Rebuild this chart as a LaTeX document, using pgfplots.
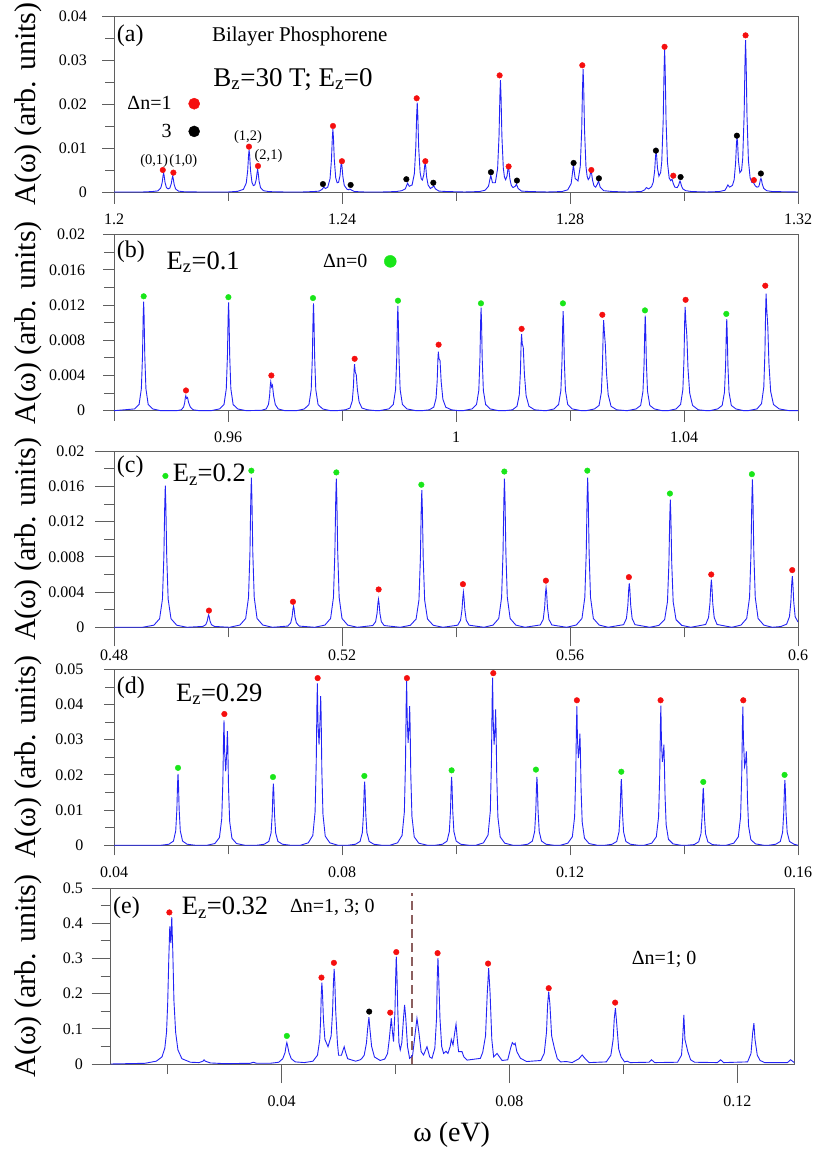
\documentclass[border=0pt]{standalone}
\usepackage{fontspec}
\setmainfont{Liberation Serif}
\usepackage{pgfplots}
\usepackage{pgfplotstable}
\pgfplotsset{compat=1.18}

\definecolor{specblue}{RGB}{35,35,245}
\definecolor{dotred}{RGB}{245,15,15}
\definecolor{dotgreen}{RGB}{25,230,25}
\definecolor{axgray}{RGB}{95,95,95}
\definecolor{dashbrown}{RGB}{140,95,95}

% ---------------- panel (a) ----------------
\pgfplotstableread{
x y
1.2000 0
1.2050 0
1.2067 0.0001
1.2077 0.00025
1.2082 0.0009
1.20845 0.0021
1.2086 0.0036
1.2087 0.0043
1.2088 0.0037
1.20895 0.0022
1.2092 0.0010
1.2095 0.0007
1.2098 0.0009
1.21005 0.0019
1.2102 0.0031
1.2103 0.0036
1.2104 0.0030
1.21055 0.00175
1.2108 0.0007
1.2113 0.0002
1.2123 0.00005
1.2150 0
1.2200 0
1.2217 0.00015
1.2227 0.0006
1.2232 0.0020
1.22345 0.0048
1.2236 0.0082
1.2237 0.0096
1.2238 0.0083
1.22395 0.0049
1.2242 0.0022
1.22445 0.00145
1.2247 0.0016
1.22495 0.0028
1.2251 0.0044
1.2252 0.0051
1.2253 0.0043
1.22545 0.0025
1.2257 0.0010
1.2262 0.0003
1.2272 0.00008
1.2300 0
1.2330 0
1.2350 0.0001
1.2360 0.0002
1.2365 0.0006
1.2368 0.0011
1.2371 0.0008
1.2375 0.0011
1.2379 0.0030
1.23815 0.0073
1.2383 0.0122
1.2384 0.0143
1.2385 0.0123
1.23865 0.0073
1.2389 0.0032
1.23915 0.0021
1.2394 0.0022
1.23965 0.0037
1.2398 0.0059
1.2399 0.0068
1.2400 0.0058
1.24015 0.0035
1.2404 0.0015
1.2409 0.0006
1.2412 0.0005
1.2414 0.00067
1.2417 0.0004
1.2422 0.0001
1.2440 0
1.2470 0
1.2495 0.0001
1.2505 0.0003
1.2511 0.0007
1.2515 0.0020
1.2518 0.0013
1.2523 0.0016
1.2527 0.0042
1.25295 0.0103
1.2531 0.0175
1.2532 0.0203
1.2533 0.0174
1.25345 0.0102
1.2537 0.0045
1.2539 0.0030
1.2541 0.0027
1.25435 0.0039
1.2545 0.0059
1.2546 0.0066
1.2547 0.0057
1.25485 0.0034
1.2551 0.0016
1.2555 0.0008
1.2559 0.0011
1.2561 0.0014
1.2564 0.0007
1.2570 0.0002
1.2585 0.0001
1.2615 0
1.2641 0.0001
1.2651 0.0004
1.2657 0.0013
1.2661 0.0038
1.2664 0.0021
1.2669 0.0021
1.2673 0.0053
1.26755 0.0128
1.2677 0.0218
1.2678 0.0254
1.2679 0.0218
1.26805 0.0128
1.2683 0.0054
1.2685 0.0034
1.2687 0.0028
1.26895 0.0036
1.2691 0.0052
1.2692 0.0058
1.2693 0.0049
1.26945 0.0030
1.2697 0.0015
1.2700 0.0010
1.2704 0.0013
1.2706 0.0018
1.2709 0.0008
1.2715 0.0002
1.2730 0.0001
1.2760 0
1.2786 0.0001
1.2796 0.0005
1.2802 0.0019
1.2806 0.0061
1.2809 0.0031
1.2814 0.0025
1.2818 0.0058
1.28205 0.0140
1.2822 0.0239
1.2823 0.0279
1.2824 0.0239
1.28255 0.0140
1.2828 0.0058
1.2830 0.0036
1.2832 0.0028
1.28345 0.0033
1.2836 0.0044
1.2837 0.0049
1.2838 0.0041
1.28395 0.0027
1.2842 0.0014
1.2845 0.0011
1.2848 0.0018
1.2850 0.0025
1.2853 0.0011
1.2859 0.0003
1.2875 0.0001
1.2900 0
1.2925 0.0001
1.2931 0.0005
1.2934 0.0010
1.2938 0.0007
1.2943 0.0012
1.2946 0.0022
1.29485 0.0048
1.2950 0.0080
1.2951 0.0093
1.2952 0.0082
1.29535 0.0054
1.2956 0.0036
1.2959 0.0044
1.2961 0.0069
1.29635 0.0163
1.2965 0.0276
1.2966 0.0324
1.2967 0.0278
1.29685 0.0163
1.2971 0.0067
1.2974 0.0032
1.29765 0.0026
1.2979 0.0029
1.29815 0.0018
1.2984 0.0011
1.2988 0.0010
1.29905 0.0015
1.2992 0.0022
1.2993 0.0025
1.2994 0.0022
1.29955 0.0014
1.2998 0.0007
1.3003 0.0003
1.3013 0.0001
1.3040 0
1.3062 0.0001
1.3072 0.0004
1.3075 0.0011
1.3077 0.0016
1.3080 0.0011
1.3085 0.0015
1.3088 0.0028
1.30905 0.0065
1.3092 0.0109
1.3093 0.0125
1.3094 0.0112
1.30955 0.0071
1.3098 0.0044
1.3101 0.0049
1.3103 0.0076
1.31055 0.0176
1.3107 0.0295
1.3108 0.0345
1.3109 0.0297
1.31105 0.0174
1.3113 0.0072
1.3116 0.0032
1.3119 0.0022
1.3122 0.0021
1.3125 0.0014
1.3128 0.0011
1.3131 0.0012
1.31325 0.0018
1.3134 0.0028
1.3135 0.0031
1.3136 0.0027
1.31375 0.0017
1.3140 0.0008
1.3145 0.0003
1.3155 0.0001
1.3200 0
}\specA
\pgfplotstableread{
x y
1.20856 0.0050
1.21042 0.0044
1.22368 0.0103
1.22526 0.0059
1.23842 0.0150
1.23999 0.0070
1.2531 0.0213
1.25462 0.0070
1.26765 0.0265
1.26923 0.0058
1.28216 0.0288
1.28374 0.0050
1.29659 0.0330
1.29812 0.0037
1.3108 0.0356
1.31226 0.0027
}\redA
\pgfplotstableread{
x y
1.23666 0.0018
1.24152 0.0016
1.25129 0.0029
1.25602 0.0021
1.26613 0.0045
1.27069 0.0026
1.28063 0.0066
1.28507 0.0031
1.29507 0.0094
1.2994 0.0034
1.30928 0.0128
1.31349 0.0042
}\blackA

% ---------------- panel (b) ----------------
\pgfplotstableread{
x y
0.9400 0
0.9436 0.0002
0.9444 0.0007
0.9448 0.0025
0.9450 0.0062
0.94512 0.0107
0.9452 0.0124
0.94528 0.0107
0.9454 0.0062
0.9456 0.0025
0.9460 0.0007
0.9468 0.0002
0.9482 0
0.9510 0
0.9518 0.0001
0.9522 0.0004
0.9524 0.0009
0.95252 0.0015
0.9526 0.0017
0.95272 0.0014
0.9529 0.0015
0.9531 0.0009
0.9534 0.0004
0.9539 0.0001
0.9550 0
0.9570 0
0.9585 0.0002
0.9593 0.0007
0.9597 0.0025
0.9599 0.0062
0.96002 0.0106
0.9601 0.0123
0.96018 0.0106
0.9603 0.0062
0.9605 0.0025
0.9609 0.0007
0.9617 0.0002
0.9632 0
0.9659 0.00005
0.9667 0.0002
0.9671 0.0007
0.9673 0.0017
0.96742 0.0029
0.9675 0.0033
0.96765 0.0027
0.9678 0.0029
0.9680 0.0017
0.9683 0.0007
0.9688 0.0002
0.9700 0
0.9720 0
0.9734 0.0002
0.9742 0.0007
0.9746 0.0024
0.9748 0.0061
0.97492 0.0105
0.9750 0.0122
0.97508 0.0105
0.9752 0.0061
0.9754 0.0024
0.9758 0.0007
0.9766 0.0002
0.9780 0
0.9790 0
0.9806 0.0001
0.9814 0.0003
0.9818 0.0011
0.9820 0.0027
0.98212 0.0046
0.9822 0.0053
0.98232 0.0044
0.9825 0.0041
0.9827 0.0024
0.9830 0.0010
0.9835 0.0003
0.9845 0.0001
0.9860 0
0.9865 0
0.9882 0.0002
0.9890 0.0007
0.9894 0.0024
0.9896 0.0060
0.98972 0.0102
0.9898 0.0119
0.98988 0.0102
0.9900 0.0060
0.9902 0.0024
0.9906 0.0007
0.9914 0.0002
0.9930 0
0.9940 0
0.9953 0.0001
0.9961 0.0004
0.9965 0.0014
0.9967 0.0034
0.99682 0.0058
0.9969 0.0067
0.99702 0.0059
0.9972 0.0057
0.9974 0.0033
0.9977 0.0013
0.9982 0.0004
0.9992 0.0001
1.0005 0
1.0012 0
1.0028 0.0002
1.0036 0.0007
1.0040 0.0023
1.0042 0.0059
1.00432 0.0101
1.0044 0.0117
1.00448 0.0101
1.0046 0.0059
1.0048 0.0023
1.0052 0.0007
1.0060 0.0002
1.0075 0
1.0085 0
1.0099 0.0001
1.0107 0.0005
1.0111 0.0018
1.0113 0.0044
1.01142 0.0075
1.0115 0.0087
1.01162 0.0076
1.0118 0.0072
1.0120 0.0042
1.0123 0.0017
1.0128 0.0005
1.0138 0.0001
1.0155 0
1.0158 0
1.0172 0.0002
1.0180 0.0007
1.0184 0.0023
1.0186 0.0057
1.01872 0.0097
1.0188 0.0113
1.01888 0.0097
1.0190 0.0057
1.0192 0.0023
1.0196 0.0007
1.0204 0.0002
1.0220 0
1.0228 0
1.0243 0.0002
1.0251 0.0006
1.0255 0.0021
1.0257 0.0052
1.02582 0.0089
1.0259 0.0103
1.02602 0.0090
1.0262 0.0075
1.0264 0.0043
1.0267 0.0018
1.0272 0.0005
1.0282 0.0001
1.0300 0
1.0316 0.0002
1.0324 0.0006
1.0328 0.0022
1.0330 0.0054
1.03312 0.0093
1.0332 0.0108
1.03328 0.0093
1.0334 0.0054
1.0336 0.0022
1.0340 0.0006
1.0348 0.0002
1.0362 0
1.0372 0
1.0386 0.0002
1.0394 0.0007
1.0398 0.0024
1.0400 0.0059
1.04012 0.0102
1.0402 0.0118
1.04032 0.0102
1.0405 0.0085
1.0407 0.0048
1.0410 0.0020
1.0415 0.0006
1.0425 0.0001
1.0440 0
1.0445 0
1.0459 0.0002
1.0467 0.0006
1.0471 0.0021
1.0473 0.0052
1.04742 0.0089
1.0475 0.0104
1.04758 0.0089
1.0477 0.0052
1.0479 0.0021
1.0483 0.0006
1.0491 0.0002
1.0505 0
1.0512 0
1.0528 0.0002
1.0536 0.0008
1.0540 0.0027
1.0542 0.0067
1.05432 0.0114
1.0544 0.0133
1.05452 0.0115
1.0547 0.0096
1.0549 0.0054
1.0552 0.0022
1.0557 0.0007
1.0567 0.0002
1.0585 0
1.0600 0
}\specB
\pgfplotstableread{
x y
0.94521 0.0130
0.96007 0.0129
0.97491 0.0128
0.98982 0.0125
1.00438 0.0122
1.01876 0.0122
1.03315 0.0114
1.04742 0.0110
}\greenB
\pgfplotstableread{
x y
0.95263 0.0023
0.96761 0.0040
0.98222 0.0059
0.99695 0.0075
1.01151 0.0093
1.02567 0.0109
1.04028 0.0126
1.05426 0.0142
}\redB

% ---------------- panel (c) ----------------
\pgfplotstableread{
x y
0.4800 0
0.4850 0
0.4870 0.00024
0.4880 0.00097
0.4885 0.0032
0.48875 0.0081
0.4889 0.0138
0.4890 0.0161
0.4891 0.0138
0.48925 0.0081
0.4895 0.0032
0.4900 0.00097
0.4910 0.00024
0.4928 0
0.4956 0.0001
0.4961 0.0003
0.49635 0.0007
0.4965 0.0012
0.4966 0.0014
0.4967 0.0012
0.49685 0.0007
0.4971 0.0003
0.4976 0.0001
0.5003 0
0.5021 0.00026
0.5031 0.0010
0.5036 0.0034
0.50385 0.0085
0.5040 0.0146
0.5041 0.0170
0.5042 0.0146
0.50435 0.0085
0.5046 0.0034
0.5051 0.0010
0.5061 0.00026
0.5078 0
0.5105 0.00014
0.5110 0.0005
0.51125 0.0012
0.5114 0.0021
0.5115 0.0024
0.5116 0.0021
0.51175 0.0012
0.5120 0.0005
0.5125 0.00014
0.5152 0
0.5170 0.00025
0.5180 0.0010
0.5185 0.0034
0.51875 0.0085
0.5189 0.0145
0.5190 0.0169
0.5191 0.0145
0.51925 0.0085
0.5195 0.0034
0.5200 0.0010
0.5210 0.00025
0.5227 0
0.5254 0.0002
0.5259 0.00064
0.52615 0.0016
0.5263 0.00275
0.5264 0.0032
0.5265 0.00275
0.52665 0.0016
0.5269 0.00064
0.5274 0.0002
0.5302 0
0.5320 0.00023
0.5330 0.00094
0.5335 0.0031
0.53375 0.0078
0.5339 0.0134
0.5340 0.0156
0.5341 0.0134
0.53425 0.0078
0.5345 0.0031
0.5350 0.00094
0.5360 0.00023
0.5377 0
0.5403 0.00024
0.5408 0.0008
0.54105 0.0020
0.5412 0.0034
0.5413 0.0040
0.5414 0.0034
0.54155 0.0020
0.5418 0.0008
0.5423 0.00024
0.5449 0
0.5465 0.00025
0.5475 0.0010
0.5480 0.0034
0.54825 0.0085
0.5484 0.0145
0.5485 0.0169
0.5486 0.0145
0.54875 0.0085
0.5490 0.0034
0.5495 0.0010
0.5505 0.00025
0.5521 0
0.5548 0.00027
0.5553 0.0009
0.55555 0.00225
0.5557 0.0039
0.5558 0.0045
0.5559 0.0039
0.55605 0.00225
0.5563 0.0009
0.5568 0.00027
0.5594 0
0.5611 0.00026
0.5621 0.0010
0.5626 0.0034
0.56285 0.0085
0.5630 0.0146
0.5631 0.0170
0.5632 0.0146
0.56335 0.0085
0.5636 0.0034
0.5641 0.0010
0.5651 0.00026
0.5667 0
0.5694 0.0003
0.5699 0.0010
0.57015 0.0025
0.5703 0.0043
0.5704 0.0050
0.5705 0.0043
0.57065 0.0025
0.5709 0.0010
0.5714 0.0003
0.5740 0
0.5756 0.00022
0.5766 0.00087
0.5771 0.0029
0.57735 0.00725
0.5775 0.0125
0.5776 0.0145
0.5777 0.0125
0.57785 0.00725
0.5781 0.0029
0.5786 0.00087
0.5796 0.00022
0.5812 0
0.5838 0.00032
0.5843 0.0011
0.58455 0.0027
0.5847 0.0046
0.5848 0.0054
0.5849 0.0046
0.58505 0.0027
0.5853 0.0011
0.5858 0.00032
0.5884 0
0.5900 0.00025
0.5910 0.0010
0.5915 0.0034
0.59175 0.0084
0.5919 0.0144
0.5920 0.0168
0.5921 0.0144
0.59225 0.0084
0.5925 0.0034
0.5930 0.0010
0.5940 0.00025
0.5955 0
0.5970 0.00009
0.5980 0.00035
0.5985 0.0012
0.59875 0.0029
0.5989 0.0050
0.5990 0.0058
0.5991 0.0050
0.59925 0.0029
0.5995 0.0012
0.6000 0.0006
}\specC
\pgfplotstableread{
x y
0.48902 0.0172
0.50410 0.0178
0.51901 0.0176
0.53392 0.0162
0.54848 0.0177
0.56304 0.0178
0.57753 0.0152
0.59191 0.0174
}\greenC
\pgfplotstableread{
x y
0.49666 0.0019
0.51140 0.0029
0.52643 0.0043
0.54122 0.0049
0.55577 0.0053
0.57033 0.0057
0.58478 0.0060
0.59899 0.0065
}\redC

% ---------------- panel (d) ----------------
\pgfplotstableread{
x y
0.0400 0
0.0482 0
0.04963 0.0003
0.05043 0.0012
0.05083 0.0041
0.05103 0.0102
0.05115 0.0175
0.05123 0.0203
0.05131 0.0175
0.05143 0.0102
0.05163 0.0041
0.05203 0.0012
0.05283 0.0003
0.0543 0
0.0563 0
0.0577 0.0005
0.0585 0.0022
0.0589 0.0075
0.0591 0.0180
0.05922 0.0305
0.0593 0.0355
0.0594 0.027
0.0596 0.021
0.05979 0.027
0.05989 0.0324
0.05997 0.028
0.06009 0.0165
0.06029 0.0068
0.06069 0.0020
0.06149 0.0005
0.0630 0
0.0650 0
0.06636 0.0003
0.06716 0.0011
0.06756 0.0035
0.06776 0.0088
0.06788 0.0151
0.06796 0.0175
0.06804 0.0151
0.06816 0.0088
0.06836 0.0035
0.06876 0.0011
0.06956 0.0003
0.0710 0
0.0727 0
0.07408 0.0007
0.07488 0.0028
0.07528 0.0095
0.07548 0.0235
0.0756 0.0395
0.07568 0.0460
0.07578 0.035
0.07597 0.0286
0.07616 0.036
0.07626 0.0424
0.07634 0.037
0.07646 0.0215
0.07666 0.0088
0.07706 0.0026
0.07786 0.0007
0.0793 0
0.0810 0
0.08237 0.0003
0.08317 0.0011
0.08357 0.0036
0.08377 0.0090
0.08389 0.0156
0.08397 0.0181
0.08405 0.0156
0.08417 0.0090
0.08437 0.0036
0.08477 0.0011
0.08557 0.0003
0.0870 0
0.0884 0
0.08974 0.0007
0.09054 0.0028
0.09094 0.0095
0.09114 0.0235
0.09126 0.040
0.09134 0.0467
0.09144 0.036
0.0916 0.0291
0.09177 0.034
0.09187 0.0395
0.09195 0.034
0.09207 0.020
0.09227 0.0082
0.09267 0.0024
0.09347 0.0006
0.0950 0
0.0963 0
0.09763 0.0003
0.09843 0.0012
0.09883 0.0039
0.09903 0.0097
0.09915 0.0167
0.09923 0.0194
0.09931 0.0167
0.09943 0.0097
0.09963 0.0039
0.10003 0.0012
0.10083 0.0003
0.1023 0
0.1035 0
0.10482 0.0007
0.10562 0.0029
0.10602 0.0097
0.10622 0.024
0.10634 0.041
0.10642 0.0476
0.10652 0.036
0.10668 0.0286
0.10685 0.033
0.10695 0.0386
0.10703 0.033
0.10715 0.0195
0.10735 0.008
0.10775 0.0024
0.10855 0.0006
0.1100 0
0.1113 0
0.1126 0.0003
0.1134 0.0012
0.1138 0.0039
0.1140 0.0097
0.11412 0.0167
0.1142 0.0194
0.11428 0.0167
0.1144 0.0097
0.1146 0.0039
0.1150 0.0012
0.1158 0.0003
0.1172 0
0.1183 0
0.11961 0.0006
0.12041 0.0024
0.12081 0.0081
0.12101 0.020
0.12113 0.034
0.12121 0.0395
0.12131 0.030
0.12148 0.0248
0.12164 0.028
0.12174 0.0317
0.12182 0.027
0.12194 0.016
0.12214 0.0066
0.12254 0.002
0.12334 0.0005
0.1248 0
0.1261 0
0.1274 0.0003
0.1282 0.0011
0.1286 0.0038
0.1288 0.0094
0.12892 0.0162
0.1290 0.0188
0.12908 0.0162
0.1292 0.0094
0.1294 0.0038
0.1298 0.0011
0.1306 0.0003
0.1320 0
0.1330 0
0.13434 0.0006
0.13514 0.0024
0.13554 0.0081
0.13574 0.020
0.13586 0.034
0.13594 0.0397
0.13604 0.030
0.1362 0.0237
0.13637 0.026
0.13647 0.0286
0.13655 0.024
0.13667 0.0143
0.13687 0.0058
0.13727 0.0017
0.13807 0.0004
0.1395 0
0.1405 0
0.14178 0.0002
0.14258 0.0010
0.14298 0.0033
0.14318 0.0082
0.1433 0.0140
0.14338 0.0163
0.14346 0.0140
0.14358 0.0082
0.14378 0.0033
0.14418 0.0010
0.14498 0.0002
0.1465 0
0.1474 0
0.14873 0.0006
0.14953 0.0024
0.14993 0.0081
0.15013 0.020
0.15025 0.034
0.15033 0.0394
0.15043 0.030
0.15063 0.0224
0.15083 0.024
0.15093 0.0267
0.15101 0.023
0.15113 0.0134
0.15133 0.0054
0.15173 0.0016
0.15253 0.0004
0.1540 0
0.1548 0
0.1561 0.0003
0.1569 0.0011
0.1573 0.0037
0.1575 0.0093
0.15762 0.0159
0.1577 0.0185
0.15778 0.0159
0.1579 0.0093
0.1581 0.0037
0.1585 0.0011
0.1593 0.0003
0.1600 0
}\specD
\pgfplotstableread{
x y
0.05123 0.0220
0.06789 0.0194
0.08392 0.0197
0.09923 0.0213
0.11402 0.0215
0.12900 0.0209
0.14338 0.0180
0.15764 0.0200
}\greenD
\pgfplotstableread{
x y
0.05936 0.0373
0.07573 0.0475
0.09139 0.0475
0.10654 0.0489
0.12121 0.0412
0.13589 0.0412
0.15040 0.0412
}\redD

% ---------------- panel (e) ----------------
\pgfplotstableread{
x y
0.0100 0
0.0160 0.002
0.0180 0.008
0.0190 0.02
0.0195 0.045
0.0198 0.09
0.0200 0.17
0.0202 0.30
0.02037 0.391
0.02055 0.3435
0.02072 0.4175
0.0209 0.32
0.0211 0.18
0.0214 0.09
0.0218 0.04
0.0225 0.015
0.0240 0.005
0.0255 0.004
0.0262 0.008
0.02639 0.012
0.0266 0.008
0.0275 0.003
0.0300 0.001
0.0345 0.002
0.03505 0.005
0.0356 0.002
0.0380 0.002
0.0395 0.005
0.0402 0.015
0.0406 0.032
0.0408 0.052
0.04092 0.0607
0.04105 0.052
0.0413 0.032
0.0417 0.015
0.0424 0.006
0.0440 0.004
0.0455 0.008
0.0463 0.025
0.0467 0.07
0.04685 0.125
0.04697 0.2
0.04707 0.2314
0.04718 0.2
0.04735 0.125
0.0476 0.07
0.04815 0.049
0.0487 0.08
0.04895 0.15
0.0491 0.23
0.04923 0.2703
0.04935 0.23
0.0495 0.15
0.0498 0.06
0.0500 0.025
0.0505 0.025
0.0508 0.04
0.05099 0.049
0.0512 0.035
0.0516 0.015
0.0530 0.008
0.0538 0.012
0.0541 0.016
0.0545 0.025
0.0549 0.06
0.0551 0.1
0.05533 0.1328
0.0555 0.1
0.0558 0.05
0.0563 0.02
0.0573 0.01
0.0581 0.014
0.0586 0.03
0.0589 0.07
0.05925 0.13
0.0595 0.085
0.05965 0.0635
0.0599 0.15
0.06003 0.25
0.06013 0.3053
0.06025 0.25
0.0604 0.15
0.0606 0.06
0.06083 0.04
0.0611 0.06
0.0614 0.13
0.06159 0.168
0.0618 0.13
0.0621 0.05
0.06247 0.016
0.0630 0.025
0.0634 0.08
0.06376 0.13
0.0641 0.09
0.0645 0.035
0.06492 0.0256
0.06552 0.049
0.0660 0.02
0.0664 0.016
0.0669 0.045
0.0672 0.13
0.06733 0.25
0.06745 0.3008
0.06757 0.25
0.0678 0.13
0.0681 0.05
0.06844 0.03
0.06886 0.036
0.0692 0.03
0.0696 0.05
0.06979 0.07
0.07009 0.054
0.0704 0.09
0.07062 0.113
0.0709 0.06
0.07107 0.035
0.07167 0.035
0.0720 0.02
0.07255 0.011
0.07489 0.016
0.0753 0.033
0.0758 0.08
0.0761 0.2
0.07635 0.2723
0.0766 0.2
0.0769 0.07
0.07722 0.02
0.07782 0.03
0.0787 0.01
0.0797 0.012
0.0802 0.045
0.0805 0.0607
0.0808 0.055
0.0810 0.059
0.0813 0.035
0.08192 0.0165
0.0830 0.007
0.0855 0.01
0.0861 0.03
0.0865 0.09
0.0867 0.17
0.08689 0.2058
0.0871 0.17
0.0874 0.08
0.08789 0.0447
0.0884 0.015
0.0890 0.006
0.0900 0.007
0.0910 0.004
0.0922 0.015
0.09276 0.0256
0.0933 0.015
0.0940 0.004
0.0970 0.006
0.0978 0.025
0.0982 0.07
0.0984 0.13
0.0986 0.1585
0.0988 0.12
0.09918 0.042
0.0996 0.02
0.1002 0.006
0.10066 0.008
0.1012 0.004
0.1045 0.005
0.10493 0.012
0.1055 0.004
0.1095 0.005
0.1102 0.025
0.1104 0.07
0.11061 0.1394
0.1108 0.07
0.11131 0.035
0.1118 0.012
0.1125 0.005
0.1165 0.004
0.11706 0.012
0.1176 0.004
0.1218 0.006
0.1224 0.03
0.1227 0.09
0.12291 0.1158
0.1231 0.07
0.1235 0.025
0.1240 0.01
0.1248 0.004
0.1288 0.004
0.12935 0.012
0.1300 0.004
}\specE
\pgfplotstableread{
x y
0.02030 0.4306
0.04700 0.2456
0.04918 0.2874
0.05907 0.1460
0.06013 0.3179
0.06738 0.3150
0.07624 0.2854
0.08689 0.2154
0.09855 0.1744
}\redE
\pgfplotstableread{
x y
0.04092 0.0797
}\greenE
\pgfplotstableread{
x y
0.05538 0.1489
}\blackE
\pgfplotstableread{
x y
0.06289 0
0.06289 0.485
}\dashE

\pgfplotsset{
  panel/.style={
    scale only axis, width=684pt, height=176pt,
    axis line style={axgray, line width=0.8pt},
    tick style={axgray, line width=0.8pt},
    tick align=outside,
    xtick pos=left, ytick pos=left,
    scaled x ticks=false, scaled y ticks=false,
    tick label style={font=\fontsize{16}{18}\selectfont, text=black},
    clip=false,
    every axis y label/.style={at={(axis description cs:-0.1257,0.5)}, rotate=90, anchor=center, font=\fontsize{30}{32}\selectfont},
    ylabel={A(ω) (arb. units)},
  },
  spec/.style={specblue, line width=0.9pt},
  rdot/.style={only marks, mark=*, mark size=2.8pt, dotred, forget plot},
  gdot/.style={only marks, mark=*, mark size=2.8pt, dotgreen, forget plot},
  kdot/.style={only marks, mark=*, mark size=2.8pt, black, forget plot},
}
\tikzset{
  lab/.style={anchor=west, inner sep=0pt, font=\fontsize{24}{26}\selectfont},
  ez/.style={anchor=base west, inner sep=0pt, font=\fontsize{26.5}{30}\selectfont},
  dn/.style={anchor=base west, inner sep=0pt, font=\fontsize{20}{22}\selectfont},
}

\begin{document}
\begin{tikzpicture}
\useasboundingbox (0pt,0pt) rectangle (815pt,1152pt);

% (a)
\begin{axis}[panel, at={(114pt,960pt)}, anchor=south west,
  xmin=1.2, xmax=1.32, ymin=0, ymax=0.04,
  xtick={1.2,1.24,1.28,1.32}, xticklabels={1.2,1.24,1.28,1.32},
  minor xtick={1.22,1.26,1.30},
  ytick={0,0.01,0.02,0.03,0.04}, yticklabels={0,0.01,0.02,0.03,0.04},
  minor ytick={0.005,0.015,0.025,0.035},
  major tick length=12pt, minor tick length=9pt,
  yticklabel style={xshift=-11.7pt}, xticklabel style={yshift=-6.4pt},
  legend plot pos=right, legend cell align=right,
  legend style={draw=none, fill=none, inner sep=0pt, row sep=9pt, column sep=15pt,
    font=\fontsize{20}{22}\selectfont,
    at={(axis description cs:0.1257,0.556)}, anchor=north east}]
\addplot[spec, forget plot] table {\specA};
\addplot[rdot] table {\redA};
\addplot[kdot] table {\blackA};
\addlegendimage{only marks, mark=*, mark size=5.6pt, dotred}
\addlegendentry{Δn=1}
\addlegendimage{only marks, mark=*, mark size=5.5pt, black}
\addlegendentry{3}
\node[lab] at (axis description cs:0.004,0.89) {(a)};
\node[anchor=west, inner sep=0pt, font=\fontsize{21}{24}\selectfont] at (axis description cs:0.143,0.885) {Bilayer Phosphorene};
\node[anchor=base west, inner sep=0pt, font=\fontsize{27}{30}\selectfont] at (axis description cs:0.145,0.601) {B\textsubscript{z}=30 T; E\textsubscript{z}=0};
\node[inner sep=0pt, font=\fontsize{14.5}{16}\selectfont] at (axis cs:1.20705,0.0071) {(0,1)};
\node[inner sep=0pt, font=\fontsize{14.5}{16}\selectfont] at (axis cs:1.21217,0.0071) {(1,0)};
\node[inner sep=0pt, font=\fontsize{14.5}{16}\selectfont] at (axis cs:1.2235,0.01255) {(1,2)};
\node[inner sep=0pt, font=\fontsize{14.5}{16}\selectfont] at (axis cs:1.2271,0.00817) {(2,1)};
\end{axis}

% (b)
\begin{axis}[panel, at={(114pt,741.3pt)}, anchor=south west,
  xmin=0.94, xmax=1.06, ymin=0, ymax=0.02,
  xtick={0.96,1,1.04}, xticklabels={0.96,1,1.04},
  minor xtick={0.94,0.98,1.02,1.06},
  ytick={0,0.004,0.008,0.012,0.016,0.02}, yticklabels={0,0.004,0.008,0.012,0.016,0.02},
  minor ytick={0.002,0.006,0.01,0.014,0.018},
  major tick length=11pt, minor tick length=10pt,
  yticklabel style={xshift=-14.4pt}, xticklabel style={yshift=-6.3pt},
  legend plot pos=right,
  legend style={draw=none, fill=none, inner sep=0pt, column sep=15pt,
    font=\fontsize{20}{22}\selectfont,
    at={(axis description cs:0.413,0.903)}, anchor=north east}]
\addplot[spec, forget plot] table {\specB};
\addplot[gdot] table {\greenB};
\addplot[rdot] table {\redB};
\addlegendimage{only marks, mark=*, mark size=6pt, dotgreen}
\addlegendentry{Δn=0}
\node[lab] at (axis description cs:0.004,0.905) {(b)};
\node[ez] at (axis description cs:0.0767,0.805) {E\textsubscript{z}=0.1};
\end{axis}

% (c)
\begin{axis}[panel, at={(114pt,524.7pt)}, anchor=south west,
  xmin=0.48, xmax=0.6, ymin=0, ymax=0.02,
  xtick={0.48,0.52,0.56,0.6}, xticklabels={0.48,0.52,0.56,0.6},
  minor xtick={0.50,0.54,0.58},
  ytick={0,0.004,0.008,0.012,0.016,0.02}, yticklabels={0,0.004,0.008,0.012,0.016,0.02},
  minor ytick={0.002,0.006,0.01,0.014,0.018},
  major tick length=19pt, minor tick length=10pt,
  yticklabel style={xshift=-7pt}, xticklabel style={yshift=-0.5pt}]
\addplot[spec] table {\specC};
\addplot[gdot] table {\greenC};
\addplot[rdot] table {\redC};
\node[lab] at (axis description cs:0.004,0.914) {(c)};
\node[ez] at (axis description cs:0.0857,0.829) {E\textsubscript{z}=0.2};
\end{axis}

% (d)
\begin{axis}[panel, at={(114pt,306.7pt)}, anchor=south west,
  xmin=0.04, xmax=0.16, ymin=0, ymax=0.05,
  xtick={0.04,0.08,0.12,0.16}, xticklabels={0.04,0.08,0.12,0.16},
  minor xtick={0.06,0.10,0.14},
  ytick={0,0.01,0.02,0.03,0.04,0.05}, yticklabels={0,0.01,0.02,0.03,0.04,0.05},
  minor ytick={0.005,0.015,0.025,0.035,0.045},
  major tick length=10pt, minor tick length=9pt,
  yticklabel style={xshift=-17pt}, xticklabel style={yshift=-7.7pt}]
\addplot[spec] table {\specD};
\addplot[gdot] table {\greenD};
\addplot[rdot] table {\redD};
\node[lab] at (axis description cs:0.004,0.897) {(d)};
\node[ez] at (axis description cs:0.0905,0.819) {E\textsubscript{z}=0.29};
\end{axis}

% (e)
\begin{axis}[panel, at={(110.7pt,88pt)}, anchor=south west, width=683.6pt,
  xmin=0.01, xmax=0.13, ymin=0, ymax=0.5,
  xtick={0.04,0.08,0.12}, xticklabels={0.04,0.08,0.12},
  minor xtick={0.02,0.06,0.10},
  ytick={0,0.1,0.2,0.3,0.4,0.5}, yticklabels={0,0.1,0.2,0.3,0.4,0.5},
  minor ytick={0.05,0.15,0.25,0.35,0.45},
  major tick length=19pt, minor tick length=10pt,
  yticklabel style={xshift=-5.4pt}, xticklabel style={yshift=-9.4pt},
  every axis y label/.style={at={(axis description cs:-0.121,0.5)}, rotate=90, anchor=center, font=\fontsize{30}{32}\selectfont}]
\addplot[dashbrown, line width=1.3pt, dash pattern=on 9pt off 5pt] table {\dashE};
\addplot[spec] table {\specE};
\addplot[gdot] table {\greenE};
\addplot[kdot] table {\blackE};
\addplot[rdot] table {\redE};
\node[lab] at (axis description cs:0.0034,0.888) {(e)};
\node[ez] at (axis description cs:0.104,0.848) {E\textsubscript{z}=0.32};
\node[dn] at (axis description cs:0.262,0.858) {Δn=1, 3; 0};
\node[dn] at (axis description cs:0.762,0.5635) {Δn=1; 0};
\end{axis}

\node[font=\fontsize{28}{30}\selectfont] at (451.7pt,17pt) {ω (eV)};
\end{tikzpicture}
\end{document}
